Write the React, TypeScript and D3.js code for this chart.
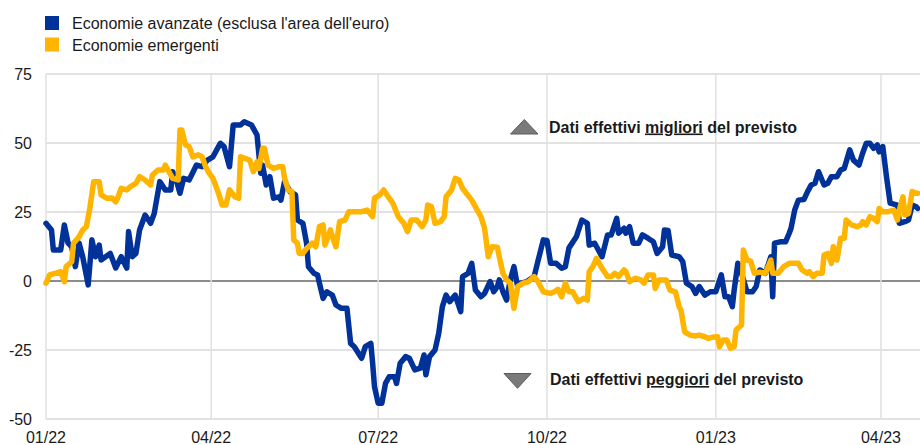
import React from "react";
import * as d3 from "d3";

const legendLabels = ["Economie avanzate (esclusa l'area dell'euro)", "Economie emergenti"];
const seriesColors = ["#003299", "#FFB400"];
const yTicks = [-50, -25, 0, 25, 50, 75];
const xTickDates = ["2022-01-01", "2022-04-01", "2022-07-01", "2022-10-01", "2023-01-01", "2023-04-01"];
const xTickLabels = ["01/22", "04/22", "07/22", "10/22", "01/23", "04/23"];
const noteBetter = ["Dati effettivi ", "migliori", " del previsto"];
const noteWorse = ["Dati effettivi ", "peggiori", " del previsto"];

const advanced: [string, number][] = [
  ["2022-01-01", 20.9], ["2022-01-04", 18.5], ["2022-01-05", 11.2], ["2022-01-09", 11.2], ["2022-01-11", 20.3],
  ["2022-01-13", 13.8], ["2022-01-15", 12.4], ["2022-01-17", 5.2], ["2022-01-19", 13.8], ["2022-01-21", 8.8],
  ["2022-01-24", -1.4], ["2022-01-26", 14.9], ["2022-01-28", 8.8], ["2022-01-30", 13], ["2022-01-31", 7.6],
  ["2022-02-05", 10], ["2022-02-08", 4.7], ["2022-02-11", 8.8], ["2022-02-14", 4.7], ["2022-02-15", 17.9],
  ["2022-02-17", 8.8], ["2022-02-19", 10], ["2022-02-21", 18.5], ["2022-02-24", 23.9], ["2022-02-27", 20.9],
  ["2022-03-01", 24.5], ["2022-03-04", 36], ["2022-03-07", 33], ["2022-03-10", 33], ["2022-03-11", 39.6],
  ["2022-03-13", 36.6], ["2022-03-15", 31.8], ["2022-03-17", 37.2], ["2022-03-20", 36.6], ["2022-03-24", 42],
  ["2022-03-27", 41.4], ["2022-03-30", 43.8], ["2022-04-02", 45], ["2022-04-05", 48.7], ["2022-04-06", 49.9],
  ["2022-04-08", 48.7], ["2022-04-11", 41.4], ["2022-04-13", 56.5], ["2022-04-17", 56.5], ["2022-04-19", 57.7],
  ["2022-04-23", 56.5], ["2022-04-26", 52.9], ["2022-04-28", 39], ["2022-04-29", 42], ["2022-05-01", 34.8],
  ["2022-05-03", 37.8], ["2022-05-05", 30], ["2022-05-08", 30.5], ["2022-05-09", 29.3], ["2022-05-11", 36],
  ["2022-05-14", 32.4], ["2022-05-17", 31.2], ["2022-05-18", 22.1], ["2022-05-21", 20.9], ["2022-05-23", 13.7],
  ["2022-05-24", 5.2], ["2022-05-27", 2.8], ["2022-05-29", 2.2], ["2022-05-30", -0.8], ["2022-06-01", -6.3],
  ["2022-06-03", -3.9], ["2022-06-06", -5.1], ["2022-06-08", -8.7], ["2022-06-11", -9.9], ["2022-06-14", -9.9],
  ["2022-06-16", -22.6], ["2022-06-18", -23.8], ["2022-06-22", -28], ["2022-06-24", -23.8], ["2022-06-27", -22.6],
  ["2022-06-28", -29.8], ["2022-06-29", -38.3], ["2022-07-01", -44.3], ["2022-07-03", -44.3], ["2022-07-05", -37.1],
  ["2022-07-07", -34.7], ["2022-07-10", -34.7], ["2022-07-11", -37.1], ["2022-07-13", -29.8], ["2022-07-16", -27.4],
  ["2022-07-18", -28], ["2022-07-21", -32.2], ["2022-07-24", -31.6], ["2022-07-26", -26.8], ["2022-07-27", -34],
  ["2022-07-29", -27.4], ["2022-08-01", -25], ["2022-08-03", -19], ["2022-08-05", -9.3], ["2022-08-07", -5.1],
  ["2022-08-09", -7.5], ["2022-08-12", -5.1], ["2022-08-15", -11.1], ["2022-08-16", 1.6], ["2022-08-19", 2.8],
  ["2022-08-21", 6.4], ["2022-08-23", -3.3], ["2022-08-26", -5.7], ["2022-08-28", -4.5], ["2022-08-31", -0.2],
  ["2022-09-02", -3.9], ["2022-09-04", -2], ["2022-09-05", 0.4], ["2022-09-07", -3.9], ["2022-09-09", -6.9],
  ["2022-09-11", 0.4], ["2022-09-13", 5.2], ["2022-09-15", -2], ["2022-09-17", -0.8], ["2022-09-20", -0.2],
  ["2022-09-24", 1.6], ["2022-09-26", 7], ["2022-09-29", 14.9], ["2022-10-01", 14.7], ["2022-10-03", 6.4],
  ["2022-10-06", 6.4], ["2022-10-09", 4.6], ["2022-10-11", 5.2], ["2022-10-13", 12], ["2022-10-14", 13],
  ["2022-10-17", 16], ["2022-10-20", 22.1], ["2022-10-23", 20.9], ["2022-10-24", 13], ["2022-10-27", 13.7],
  ["2022-10-31", 8.8], ["2022-11-03", 16.7], ["2022-11-05", 16.7], ["2022-11-08", 22.7], ["2022-11-09", 17.3],
  ["2022-11-12", 19.1], ["2022-11-13", 17.3], ["2022-11-15", 19.7], ["2022-11-17", 13.7], ["2022-11-20", 13.7],
  ["2022-11-22", 16.7], ["2022-11-25", 15.5], ["2022-11-28", 14.2], ["2022-11-30", 10], ["2022-12-03", 12.4],
  ["2022-12-04", 18.5], ["2022-12-06", 18.3], ["2022-12-08", 9.4], ["2022-12-12", 8.8], ["2022-12-14", 7],
  ["2022-12-16", -0.8], ["2022-12-19", -2], ["2022-12-21", -4.5], ["2022-12-23", -2], ["2022-12-26", -5.1],
  ["2022-12-29", -3.9], ["2023-01-01", -3.9], ["2023-01-04", 2.2], ["2023-01-06", -5.7], ["2023-01-08", -5.7],
  ["2023-01-10", -9.3], ["2023-01-11", -3.3], ["2023-01-13", 6.4], ["2023-01-14", 5.2], ["2023-01-18", -3.9],
  ["2023-01-21", -3.9], ["2023-01-23", -2], ["2023-01-25", 4], ["2023-01-28", 2.8], ["2023-01-31", 8.8],
  ["2023-02-01", -5.7], ["2023-02-02", 13.7], ["2023-02-05", 14.2], ["2023-02-08", 14.2], ["2023-02-10", 17.3],
  ["2023-02-11", 19.1], ["2023-02-13", 25.7], ["2023-02-15", 29.3], ["2023-02-18", 29.5], ["2023-02-20", 32.4],
  ["2023-02-22", 34.8], ["2023-02-24", 35.4], ["2023-02-26", 39.6], ["2023-03-01", 34.8], ["2023-03-03", 35.4],
  ["2023-03-05", 37.8], ["2023-03-08", 37.8], ["2023-03-10", 40.2], ["2023-03-12", 40.8], ["2023-03-15", 47.5],
  ["2023-03-17", 43.8], ["2023-03-20", 42], ["2023-03-22", 46.3], ["2023-03-24", 49.9], ["2023-03-26", 49.9],
  ["2023-03-28", 48.1], ["2023-03-30", 49.3], ["2023-03-31", 46.8], ["2023-04-02", 48.7], ["2023-04-04", 37.8],
  ["2023-04-06", 28.2], ["2023-04-10", 27.5], ["2023-04-11", 20.9], ["2023-04-14", 21.5], ["2023-04-16", 22.1],
  ["2023-04-18", 27.5], ["2023-04-20", 27], ["2023-04-21", 26.3],
];

const emerging: [string, number][] = [
  ["2022-01-01", -0.8], ["2022-01-03", 2.2], ["2022-01-06", 2.8], ["2022-01-09", 3.4], ["2022-01-11", -0.2],
  ["2022-01-12", 5.2], ["2022-01-15", 7], ["2022-01-16", 13.7], ["2022-01-19", 16], ["2022-01-21", 18.5],
  ["2022-01-23", 19.7], ["2022-01-25", 26.9], ["2022-01-27", 36], ["2022-01-30", 36], ["2022-01-31", 31.2],
  ["2022-02-03", 30], ["2022-02-06", 30.1], ["2022-02-08", 28.7], ["2022-02-09", 30], ["2022-02-11", 33.6],
  ["2022-02-14", 33], ["2022-02-16", 34.2], ["2022-02-19", 35.4], ["2022-02-21", 37.8], ["2022-02-24", 36.6],
  ["2022-02-27", 34.8], ["2022-02-28", 38.4], ["2022-03-03", 40.2], ["2022-03-06", 40.2], ["2022-03-07", 42],
  ["2022-03-10", 38.4], ["2022-03-11", 37.2], ["2022-03-14", 36.6], ["2022-03-15", 54.7], ["2022-03-16", 54.7],
  ["2022-03-18", 49.3], ["2022-03-20", 48.7], ["2022-03-22", 45], ["2022-03-25", 45.7], ["2022-03-27", 45],
  ["2022-03-29", 41.4], ["2022-03-31", 39], ["2022-04-02", 37.2], ["2022-04-05", 31.8], ["2022-04-07", 27.5],
  ["2022-04-09", 27.5], ["2022-04-11", 33], ["2022-04-14", 30.5], ["2022-04-16", 30], ["2022-04-17", 45],
  ["2022-04-19", 44.5], ["2022-04-22", 43.8], ["2022-04-24", 39.6], ["2022-04-26", 43.2], ["2022-04-27", 40.8],
  ["2022-04-29", 48.1], ["2022-04-30", 48.1], ["2022-05-02", 42], ["2022-05-05", 40.8], ["2022-05-08", 41.4],
  ["2022-05-10", 41.4], ["2022-05-11", 37.2], ["2022-05-13", 33], ["2022-05-15", 32.4], ["2022-05-16", 14.9],
  ["2022-05-18", 13.7], ["2022-05-19", 10], ["2022-05-21", 10], ["2022-05-23", 11.8], ["2022-05-26", 13.7],
  ["2022-05-28", 12.4], ["2022-05-30", 19.7], ["2022-06-01", 20.3], ["2022-06-02", 13], ["2022-06-05", 18.5],
  ["2022-06-07", 14.2], ["2022-06-08", 12.4], ["2022-06-10", 21.5], ["2022-06-13", 22.1], ["2022-06-15", 25.1],
  ["2022-06-18", 25.1], ["2022-06-22", 25.1], ["2022-06-25", 25.7], ["2022-06-28", 23.3], ["2022-06-29", 30],
  ["2022-07-02", 31.2], ["2022-07-04", 33], ["2022-07-07", 30], ["2022-07-09", 28.2], ["2022-07-12", 23.3],
  ["2022-07-15", 20.9], ["2022-07-17", 17.9], ["2022-07-19", 22.1], ["2022-07-22", 22.1], ["2022-07-25", 19.7],
  ["2022-07-27", 22.1], ["2022-07-28", 27.5], ["2022-07-30", 27], ["2022-08-01", 20.9], ["2022-08-04", 21.5],
  ["2022-08-06", 23.3], ["2022-08-07", 30.5], ["2022-08-10", 33], ["2022-08-12", 37.2], ["2022-08-14", 36.6],
  ["2022-08-16", 33.6], ["2022-08-18", 31.8], ["2022-08-21", 29.3], ["2022-08-24", 25.7], ["2022-08-26", 23.3],
  ["2022-08-28", 19.1], ["2022-08-30", 8.8], ["2022-09-01", 12.4], ["2022-09-04", 12.2], ["2022-09-05", 8.8],
  ["2022-09-07", 2.8], ["2022-09-09", 0.4], ["2022-09-11", -0.8], ["2022-09-13", -9.9], ["2022-09-15", -2],
  ["2022-09-18", -0.8], ["2022-09-21", -0.2], ["2022-09-24", 1.6], ["2022-09-26", -0.2], ["2022-09-29", -3.9],
  ["2022-10-03", -4.5], ["2022-10-05", -3.9], ["2022-10-07", -3], ["2022-10-09", -5.7], ["2022-10-11", -0.8],
  ["2022-10-13", -3.9], ["2022-10-15", -3.9], ["2022-10-18", -7.5], ["2022-10-21", -6.3], ["2022-10-23", -6.9],
  ["2022-10-24", 3.4], ["2022-10-26", 5.2], ["2022-10-28", 8.2], ["2022-10-31", 4.6], ["2022-11-03", 1.6],
  ["2022-11-05", 1.6], ["2022-11-07", 2.8], ["2022-11-09", 1.6], ["2022-11-12", 4], ["2022-11-13", 3.4],
  ["2022-11-15", -0.2], ["2022-11-18", 1], ["2022-11-21", 0.4], ["2022-11-23", -0.8], ["2022-11-25", 2.2],
  ["2022-11-28", 2.2], ["2022-11-29", -2.7], ["2022-12-01", 0.4], ["2022-12-05", 0.4], ["2022-12-07", -3.3],
  ["2022-12-10", -3.9], ["2022-12-12", -9.3], ["2022-12-13", -10.5], ["2022-12-15", -18.4], ["2022-12-18", -19.6],
  ["2022-12-21", -19.9], ["2022-12-23", -19.6], ["2022-12-26", -20.2], ["2022-12-28", -20.8], ["2022-12-30", -20.4],
  ["2023-01-02", -20.2], ["2023-01-03", -23.8], ["2023-01-05", -21.4], ["2023-01-07", -21.4], ["2023-01-09", -24.4],
  ["2023-01-11", -23.8], ["2023-01-12", -17.8], ["2023-01-14", -16.6], ["2023-01-15", -16], ["2023-01-16", 11.2],
  ["2023-01-18", 7.6], ["2023-01-20", 7.2], ["2023-01-22", 2.8], ["2023-01-25", 3.2], ["2023-01-28", 2.8],
  ["2023-01-31", 7.6], ["2023-02-01", 2.8], ["2023-02-04", 2.8], ["2023-02-07", 5.2], ["2023-02-10", 6.4],
  ["2023-02-15", 6.4], ["2023-02-17", 4], ["2023-02-20", 2.8], ["2023-02-21", 3.4], ["2023-02-23", 1.6],
  ["2023-02-25", 2.8], ["2023-02-28", 2.8], ["2023-03-01", 9.4], ["2023-03-03", 10], ["2023-03-05", 6.4],
  ["2023-03-06", 12.4], ["2023-03-08", 7.6], ["2023-03-10", 15.5], ["2023-03-12", 15.5], ["2023-03-13", 22.1],
  ["2023-03-16", 20.3], ["2023-03-19", 19.7], ["2023-03-21", 20.3], ["2023-03-22", 21.5], ["2023-03-24", 20.3],
  ["2023-03-26", 23.3], ["2023-03-28", 22.7], ["2023-03-30", 21.5], ["2023-03-31", 26.3], ["2023-04-02", 25.1],
  ["2023-04-05", 25.1], ["2023-04-08", 25.7], ["2023-04-10", 22.1], ["2023-04-11", 25.7], ["2023-04-13", 30.5],
  ["2023-04-14", 23.9], ["2023-04-16", 24.5], ["2023-04-18", 32.4], ["2023-04-20", 31.8], ["2023-04-21", 31.8],
];

const seriesList = [advanced, emerging];

export default function App() {
  const W = 920;
  const H = 445;
  const parse = d3.timeParse("%Y-%m-%d");
  const x = d3
    .scaleTime()
    .domain([parse("2022-01-01") as Date, parse("2023-04-22") as Date])
    .range([46, 919.5]);
  const y = d3.scaleLinear().domain([-50, 75]).range([419, 74]);
  const line = d3
    .line<[string, number]>()
    .x((d) => x(parse(d[0]) as Date))
    .y((d) => y(d[1]))
    .curve(d3.curveLinear);

  const font = "'Liberation Sans', Arial, Helvetica, sans-serif";
  const textColor = "#1a1a1a";

  return (
    <svg
      width={W}
      height={H}
      style={{ position: "fixed", left: 0, top: 0, background: "#fff" }}
      fontFamily={font}
    >
      {yTicks.map((t) => (
        <line
          key={"h" + t}
          x1={x.range()[0]}
          x2={W}
          y1={y(t)}
          y2={y(t)}
          stroke={t === 0 ? "#8c8c8c" : "#d9d9d9"}
          strokeWidth={t === 0 ? 2 : 1.5}
        />
      ))}
      {xTickDates.map((d) => (
        <line
          key={"v" + d}
          x1={x(parse(d) as Date)}
          x2={x(parse(d) as Date)}
          y1={y(75)}
          y2={y(-50)}
          stroke="#e0e0e0"
          strokeWidth={1.5}
        />
      ))}
      {yTicks.map((t) => (
        <text
          key={"yl" + t}
          x={32}
          y={y(t)}
          dy="0.36em"
          textAnchor="end"
          fontSize={16}
          fill={textColor}
        >
          {t}
        </text>
      ))}
      {xTickDates.map((d, i) => (
        <text
          key={"xl" + d}
          x={x(parse(d) as Date)}
          y={443}
          textAnchor="middle"
          fontSize={16}
          fill={textColor}
        >
          {xTickLabels[i]}
        </text>
      ))}
      {seriesList.map((s, i) => (
        <path
          key={"s" + i}
          d={line(s) || ""}
          fill="none"
          stroke={seriesColors[i]}
          strokeWidth={5.5}
          strokeLinejoin="round"
          strokeLinecap="round"
        />
      ))}
      <polygon points="510.5,134 524.3,119.5 538,134" fill="#7a7a7a" stroke="#5a5a5a" strokeWidth={1} />
      <text x={549} y={132.5} fontSize={16} fontWeight="bold" fill={textColor}>
        <tspan>{noteBetter[0]}</tspan>
        <tspan textDecoration="underline">{noteBetter[1]}</tspan>
        <tspan>{noteBetter[2]}</tspan>
      </text>
      <polygon points="504,373.5 531,373.5 517.5,388.3" fill="#7a7a7a" stroke="#5a5a5a" strokeWidth={1} />
      <text x={550} y={385} fontSize={16} fontWeight="bold" fill={textColor}>
        <tspan>{noteWorse[0]}</tspan>
        <tspan textDecoration="underline">{noteWorse[1]}</tspan>
        <tspan>{noteWorse[2]}</tspan>
      </text>
      {legendLabels.map((l, i) => (
        <g key={"lg" + i}>
          <rect x={45} y={16 + i * 21.5} width={14} height={14} fill={seriesColors[i]} />
          <text x={72} y={29 + i * 21.5} fontSize={16} fill={textColor}>
            {l}
          </text>
        </g>
      ))}
    </svg>
  );
}
